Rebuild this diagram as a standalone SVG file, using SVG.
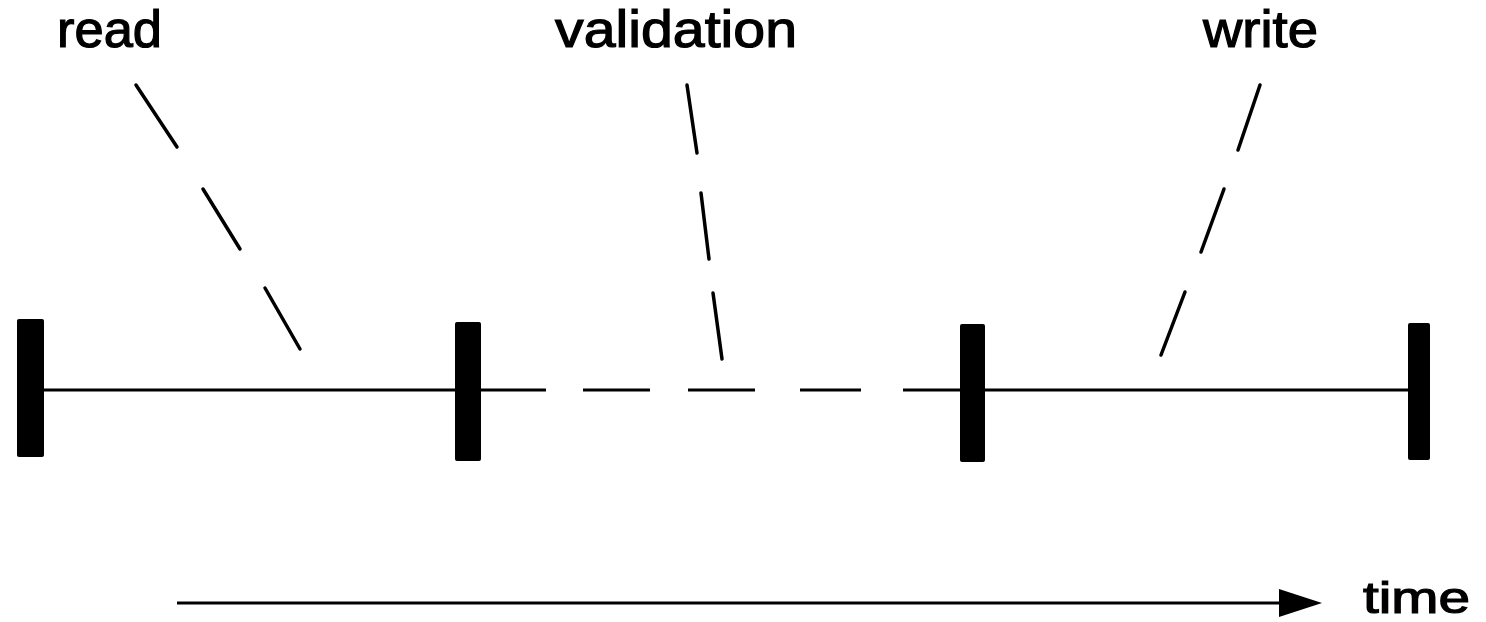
<svg xmlns="http://www.w3.org/2000/svg" width="1486" height="622" viewBox="0 0 1486 622">
<style>
.lbl{font-family:"Liberation Sans","DejaVu Sans",sans-serif;font-size:52px;fill:#000;stroke:#000;stroke-width:1.2}
.bar{fill:#000}
.ln{stroke:#000;stroke-width:3;fill:none}
.ld{stroke:#000;stroke-width:3.5;fill:none;stroke-linecap:round}
</style>
<rect width="1486" height="622" fill="#fff"/>
<g id="connectors">
  <line class="ln" x1="44" y1="390" x2="455" y2="390"/>
  <g id="validation-span">
    <line class="ln" x1="481" y1="390" x2="546" y2="390"/>
    <line class="ln" x1="583" y1="390" x2="650" y2="390"/>
    <line class="ln" x1="688" y1="390" x2="755" y2="390"/>
    <line class="ln" x1="800" y1="390" x2="861" y2="390"/>
    <line class="ln" x1="903" y1="390" x2="960" y2="390"/>
  </g>
  <line class="ln" x1="985" y1="390" x2="1408" y2="390"/>
  <g id="read-leader">
    <line class="ld" x1="136" y1="85" x2="177" y2="147"/>
    <line class="ld" x1="203" y1="189" x2="240" y2="249"/>
    <line class="ld" x1="265" y1="288" x2="300" y2="349"/>
  </g>
  <g id="validation-leader">
    <line class="ld" x1="687" y1="85" x2="697" y2="153"/>
    <line class="ld" x1="701" y1="193" x2="709" y2="259"/>
    <line class="ld" x1="713" y1="293" x2="722" y2="359"/>
  </g>
  <g id="write-leader">
    <line class="ld" x1="1260" y1="85" x2="1238" y2="150"/>
    <line class="ld" x1="1224" y1="189" x2="1201" y2="252"/>
    <line class="ld" x1="1185" y1="292" x2="1161" y2="355"/>
  </g>
  <g id="time-arrow">
    <line class="ln" x1="177" y1="603" x2="1285" y2="603"/>
    <polygon points="1279,589 1322,603 1279,617" fill="#000"/>
  </g>
</g>
<g id="bar1"><rect class="bar" x="17" y="319" width="27" height="138" rx="2"/></g>
<g id="bar2"><rect class="bar" x="455" y="322" width="26" height="139" rx="2"/></g>
<g id="bar3"><rect class="bar" x="960" y="324" width="25" height="138" rx="2"/></g>
<g id="bar4"><rect class="bar" x="1408" y="323" width="22" height="137" rx="2"/></g>
<g id="label-read"><text class="lbl" x="57" y="47" textLength="105" lengthAdjust="spacingAndGlyphs">read</text></g>
<g id="label-validation"><text class="lbl" x="555" y="47" textLength="242" lengthAdjust="spacingAndGlyphs">validation</text></g>
<g id="label-write"><text class="lbl" x="1203" y="47" textLength="115" lengthAdjust="spacingAndGlyphs">write</text></g>
<g id="label-time"><text class="lbl" x="1363" y="613" style="font-size:44px" textLength="107" lengthAdjust="spacingAndGlyphs">time</text></g>
</svg>
